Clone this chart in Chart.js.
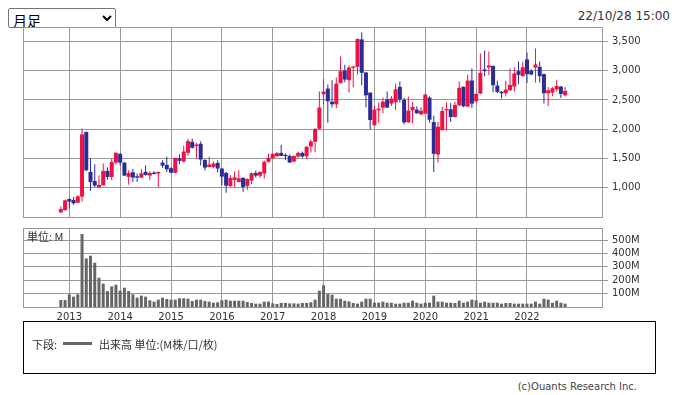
<!DOCTYPE html>
<html>
<head>
<meta charset="utf-8">
<script src="https://cdn.jsdelivr.net/npm/chart.js@4.4.0/dist/chart.umd.min.js"></script>
<style>
  html, body { margin: 0; padding: 0; background: #fff; }
  body { width: 676px; height: 395px; position: relative; overflow: hidden;
         font-family: "DejaVu Sans", sans-serif; color: #333; }
  canvas { position: absolute; left: 0; }
  #priceCanvas { top: 0; }
  #volCanvas { top: 222px; }
  #term { position: absolute; left: 8px; top: 8px; width: 108px; height: 20px;
          font: 14px "Noto Sans CJK JP", sans-serif; }
  #stamp { position: absolute; right: 6px; top: 9px; font-size: 12px; line-height: 14px; }
  #unit { position: absolute; left: 27px; top: 230px; font: 11px/12px "Noto Sans CJK JP", sans-serif; }
  #legend { position: absolute; left: 23px; top: 321px; width: 633px; height: 53px;
            box-sizing: border-box; border: 1px solid #000;
            font: 11px/12px "Noto Sans CJK JP", sans-serif; }
  #legend span { position: absolute; top: 16px; }
  #legend i { position: absolute; left: 39px; top: 20px; width: 29px; height: 3px; background: #666; }
  #copy { position: absolute; right: 39px; top: 381px; font-size: 10px; line-height: 12px; color: #444; }
</style>
</head>
<body>
<select id="term"><option>月足</option></select>
<div id="stamp">22/10/28 15:00</div>
<canvas id="priceCanvas" width="676" height="222"></canvas>
<canvas id="volCanvas" width="676" height="100"></canvas>
<div id="unit">単位: M</div>
<div id="legend"><span style="left:8px">下段:</span><i></i><span style="left:75px">出来高 単位:(M株/口/枚)</span></div>
<div id="copy">(c)Ouants Research Inc.</div>
<script>
// monthly bars, 2012/11 - 2022/10
const months = [
  '2012/11', '2012/12',
  '2013/01', '2013/02', '2013/03', '2013/04', '2013/05', '2013/06', '2013/07', '2013/08', '2013/09', '2013/10', '2013/11', '2013/12',
  '2014/01', '2014/02', '2014/03', '2014/04', '2014/05', '2014/06', '2014/07', '2014/08', '2014/09', '2014/10', '2014/11', '2014/12',
  '2015/01', '2015/02', '2015/03', '2015/04', '2015/05', '2015/06', '2015/07', '2015/08', '2015/09', '2015/10', '2015/11', '2015/12',
  '2016/01', '2016/02', '2016/03', '2016/04', '2016/05', '2016/06', '2016/07', '2016/08', '2016/09', '2016/10', '2016/11', '2016/12',
  '2017/01', '2017/02', '2017/03', '2017/04', '2017/05', '2017/06', '2017/07', '2017/08', '2017/09', '2017/10', '2017/11', '2017/12',
  '2018/01', '2018/02', '2018/03', '2018/04', '2018/05', '2018/06', '2018/07', '2018/08', '2018/09', '2018/10', '2018/11', '2018/12',
  '2019/01', '2019/02', '2019/03', '2019/04', '2019/05', '2019/06', '2019/07', '2019/08', '2019/09', '2019/10', '2019/11', '2019/12',
  '2020/01', '2020/02', '2020/03', '2020/04', '2020/05', '2020/06', '2020/07', '2020/08', '2020/09', '2020/10', '2020/11', '2020/12',
  '2021/01', '2021/02', '2021/03', '2021/04', '2021/05', '2021/06', '2021/07', '2021/08', '2021/09', '2021/10', '2021/11', '2021/12',
  '2022/01', '2022/02', '2022/03', '2022/04', '2022/05', '2022/06', '2022/07', '2022/08', '2022/09', '2022/10'
];
const openP = [
  569, 609,
  799, 781, 736, 839, 1949, 1265, 1109, 1000, 1035, 1282, 1178, 1425,
  1575, 1425, 1178, 1259, 1190, 1167, 1265, 1201, 1253, 1236, 1425, 1385,
  1328, 1247, 1500, 1443, 1592, 1782, 1707, 1748, 1471, 1351, 1351, 1420,
  1322, 1247, 1023, 1126, 1092, 1161, 1023, 1115, 1247, 1201, 1236, 1437,
  1500, 1535, 1592, 1558, 1540, 1443, 1529, 1592, 1535, 1701, 1782, 2006,
  2599, 2696, 2472, 2426, 2788, 3007, 2840, 3053, 3070, 3541, 2973, 2627,
  2064, 2323, 2369, 2512, 2438, 2460, 2725, 2501, 2115, 2323, 2334, 2253,
  2265, 2541, 2121, 1563, 1983, 2323, 2340, 2208, 2409, 2725, 2386, 2834,
  2478, 2610, 3024, 3058, 3087, 2748, 2645, 2616, 2668, 2731, 2995, 2909,
  3197, 3001, 3058, 3070, 2944, 2616, 2627, 2685, 2731, 2581
];
const highP = [
  672, 787,
  810, 839, 862, 2012, 1960, 1489, 1397, 1201, 1408, 1345, 1489, 1604,
  1587, 1430, 1293, 1316, 1236, 1316, 1374, 1276, 1276, 1270, 1466, 1523,
  1345, 1510, 1569, 1718, 1833, 1833, 1765, 1793, 1483, 1523, 1448, 1466,
  1333, 1265, 1213, 1270, 1293, 1178, 1150, 1253, 1287, 1270, 1460, 1575,
  1587, 1610, 1730, 1580, 1569, 1545, 1610, 1615, 1707, 1822, 2010, 2645,
  2857, 2765, 2840, 2886, 3248, 3104, 3099, 3082, 3559, 3662, 2975, 2630,
  2392, 2455, 2541, 2645, 2570, 2782, 2823, 2535, 2558, 2466, 2392, 2369,
  2616, 2564, 2231, 2121, 2386, 2455, 2449, 2472, 2817, 2737, 2938, 3041,
  2610, 3300, 3352, 3335, 3090, 2829, 2650, 2829, 3041, 3064, 3162, 3162,
  3317, 3030, 3386, 3162, 2955, 2725, 2725, 2840, 2742, 2725
];
const lowP = [
  560, 598,
  638, 701, 730, 753, 1276, 943, 1006, 995, 1030, 1132, 1121, 1391,
  1380, 1195, 1046, 1092, 1092, 1160, 1201, 1132, 1218, 1006, 1334, 1265,
  1241, 1240, 1397, 1425, 1546, 1667, 1494, 1374, 1287, 1345, 1322, 1253,
  1040, 908, 1006, 1006, 1085, 925, 960, 1058, 1167, 1161, 1150, 1425,
  1494, 1523, 1540, 1466, 1420, 1431, 1506, 1506, 1483, 1598, 1604, 1995,
  2426, 2110, 2369, 2357, 2788, 2805, 2627, 2714, 2932, 2754, 2369, 1995,
  2060, 2110, 2271, 2365, 2397, 2323, 2455, 2081, 2110, 2098, 2265, 2242,
  2260, 2110, 1265, 1425, 1975, 1977, 2121, 2200, 2392, 2374, 2380, 2363,
  2449, 2605, 2909, 2926, 2633, 2616, 2524, 2558, 2656, 2645, 2771, 2903,
  2794, 2926, 2800, 2800, 2438, 2392, 2564, 2645, 2535, 2558
];
const closeP = [
  626, 776,
  753, 724, 845, 1908, 1293, 1092, 1029, 1040, 1282, 1178, 1437, 1592,
  1425, 1201, 1247, 1167, 1167, 1241, 1213, 1247, 1230, 1265, 1374, 1310,
  1253, 1506, 1454, 1615, 1793, 1678, 1736, 1477, 1339, 1391, 1408, 1322,
  1184, 1029, 1161, 1172, 1155, 1006, 1144, 1241, 1201, 1265, 1437, 1506,
  1575, 1587, 1540, 1535, 1425, 1540, 1592, 1529, 1696, 1788, 2006, 2369,
  2645, 2478, 2426, 2783, 2995, 2852, 3058, 3076, 3547, 2967, 2581, 2156,
  2334, 2351, 2472, 2369, 2524, 2685, 2512, 2115, 2317, 2380, 2271, 2317,
  2593, 2161, 1575, 2041, 2311, 2346, 2208, 2415, 2708, 2392, 2834, 2438,
  2604, 2967, 2995, 3093, 2754, 2639, 2616, 2679, 2760, 2955, 2932, 3064,
  2944, 2938, 3110, 2909, 2616, 2668, 2702, 2742, 2604, 2656
];
// volume, millions
const volumeM = [
  52, 52,
  95, 77, 95, 545, 363, 383, 331, 219, 174, 119, 154, 167,
  122, 144, 119, 95, 70, 85, 77, 50, 40, 55, 70, 60,
  55, 55, 65, 65, 62, 45, 55, 55, 45, 40, 32, 35,
  50, 55, 47, 47, 47, 47, 37, 30, 25, 25, 40, 40,
  27, 22, 30, 30, 27, 27, 25, 30, 30, 35, 55, 122,
  162, 97, 92, 62, 62, 47, 42, 30, 25, 40, 62, 62,
  32, 32, 40, 32, 32, 25, 25, 32, 32, 47, 32, 25,
  32, 32, 85, 40, 40, 32, 32, 30, 47, 32, 40, 55,
  50, 32, 40, 32, 32, 32, 25, 30, 30, 25, 25, 25,
  25, 25, 40, 25, 62, 55, 32, 47, 32, 25
];
const yearTicks = ['2013', '2014', '2015', '2016', '2017', '2018', '2019', '2020', '2021', '2022'];
const priceTicks = [1000, 1500, 2000, 2500, 3000, 3500];
const volumeTicks = [100, 200, 300, 400, 500];

const UP = '#ee1144';
const DOWN = '#2b2b99';
const GRID = '#999999';
const TEXT = '#333333';
const FONT = { family: 'DejaVu Sans', size: 10 };

// x value = months since 2013/01
const monthIndex = months.map(m => {
  const [y, mo] = m.split('/').map(Number);
  return (y - 2013) * 12 + (mo - 1);
});
const yearIndex = yearTicks.map(y => (Number(y) - 2013) * 12);
const candleColor = openP.map((o, i) => (closeP[i] >= o ? UP : DOWN));

// top/left edges of the plot box (axes only draw bottom/right)
const frame = {
  id: 'frame',
  afterDraw(chart) {
    const { ctx, chartArea: a } = chart;
    ctx.save();
    ctx.strokeStyle = GRID;
    ctx.lineWidth = 1;
    ctx.strokeRect(Math.round(a.left) + 0.5, Math.round(a.top) + 0.5,
      Math.round(a.right - a.left), Math.round(a.bottom - a.top));
    ctx.restore();
  }
};

function timeAxis(showLabels) {
  return {
    type: 'linear',
    min: -10.93,
    max: 125.7,
    offset: false,
    grid: { color: GRID, offset: false, drawTicks: false },
    border: { color: GRID },
    afterBuildTicks: s => { s.ticks = yearIndex.map(v => ({ value: v })); },
    ticks: {
      display: showLabels, autoSkip: false, maxRotation: 0, padding: 4,
      color: TEXT, font: FONT,
      callback: (v, i) => yearTicks[i]
    },
    afterFit: s => { s.height = showLabels ? 15 : 0; s.paddingLeft = 0; s.paddingRight = 0; }
  };
}

function valueAxis(min, max, tickList, fmt) {
  return {
    type: 'linear',
    position: 'right',
    min,
    max,
    beginAtZero: false,
    grid: { color: GRID, tickColor: GRID, tickLength: 6 },
    border: { color: GRID },
    afterBuildTicks: s => { s.ticks = tickList.map(v => ({ value: v })); },
    ticks: { padding: 4, color: TEXT, font: FONT, callback: fmt },
    afterFit: s => { s.width = 74; s.paddingTop = 0; s.paddingBottom = 0; }
  };
}

const common = {
  responsive: false,
  animation: false,
  devicePixelRatio: 1,
  plugins: { legend: { display: false }, tooltip: { enabled: false } }
};

new Chart(document.getElementById('priceCanvas'), {
  type: 'bar',
  data: {
    datasets: [
      {
        data: monthIndex.map((x, i) => ({ x, y: [openP[i], closeP[i]] })),
        backgroundColor: candleColor,
        barThickness: 4,
        minBarLength: 1,
        inflateAmount: 0,
        grouped: false
      },
      {
        data: monthIndex.map((x, i) => ({ x, y: [lowP[i], highP[i]] })),
        backgroundColor: candleColor,
        barThickness: 1,
        inflateAmount: 0,
        grouped: false
      }
    ]
  },
  options: {
    ...common,
    layout: { padding: { left: 23, top: 27, right: 0, bottom: 5 } },
    scales: {
      x: timeAxis(false),
      y: valueAxis(490, 3754, priceTicks, v => v.toLocaleString('en-US'))
    }
  },
  plugins: [frame]
});

new Chart(document.getElementById('volCanvas'), {
  type: 'bar',
  data: {
    datasets: [{
      data: monthIndex.map((x, i) => ({ x, y: volumeM[i] })),
      backgroundColor: '#666666',
      barThickness: 3,
      inflateAmount: 0,
      grouped: false
    }]
  },
  options: {
    ...common,
    layout: { padding: { left: 23, top: 6, right: 0, bottom: 0 } },
    scales: {
      x: timeAxis(true),
      y: valueAxis(0, 590, volumeTicks, v => v + 'M')
    }
  },
  plugins: [frame]
});
</script>
</body>
</html>
